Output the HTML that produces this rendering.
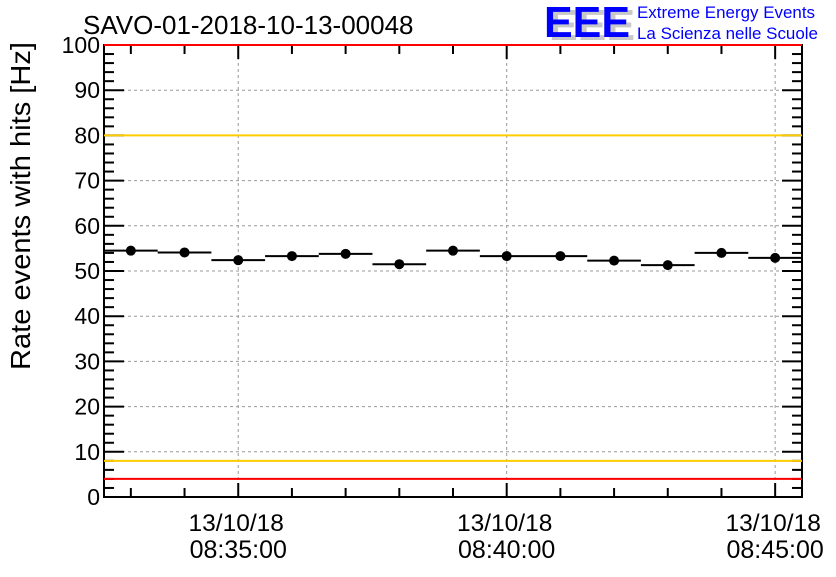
<!DOCTYPE html>
<html><head><meta charset="utf-8"><style>
body{margin:0;background:#fff;}
svg text{font-family:"Liberation Sans",sans-serif;}
</style></head><body>
<svg id="c" width="836" height="572" xmlns="http://www.w3.org/2000/svg">
<text x="83" y="34" font-size="26" fill="#000">SAVO-01-2018-10-13-00048</text>
<g>
<text x="549" y="40" font-size="44" font-weight="bold" fill="#c8c8c8" textLength="86" lengthAdjust="spacingAndGlyphs">EEE</text>
<text x="544" y="37" font-size="44" font-weight="bold" fill="#0000ff" textLength="86" lengthAdjust="spacingAndGlyphs">EEE</text>
<text x="637" y="18" font-size="16.5" fill="#0000ff" textLength="178" lengthAdjust="spacingAndGlyphs">Extreme Energy Events</text>
<text x="637" y="39" font-size="16.5" fill="#0000ff" textLength="181" lengthAdjust="spacingAndGlyphs">La Scienza nelle Scuole</text>
</g>
<g id="grid"></g><g id="axes"></g><g id="lines"></g><g id="marks"></g>
<text transform="translate(30,42) rotate(-90)" text-anchor="end" font-size="28" textLength="328" lengthAdjust="spacingAndGlyphs">Rate events with hits [Hz]</text>
</svg>
<script>
const values=[54.5,54.1,52.4,53.3,53.8,51.5,54.5,53.3,53.3,52.3,51.3,54.0,52.9];
const errors=[1.0,1.0,1.0,1.0,1.0,1.0,1.0,1.0,1.0,1.0,1.0,1.0,1.0];
const yTicks=[0,10,20,30,40,50,60,70,80,90,100];
const xTickMinutes=[35,40,45];
const xTickLabels=["08:35:00","08:40:00","08:45:00"];
const limitsRed=[100,4];
const limitsOrange=[80,8];
const startMin=32.5;
const L=104,R=802,T=45,B=497,ymax=100;
const minW=(R-L)/13;
const X=m=>L+(m-startMin)*minW;
const Y=v=>B-(v/ymax)*(B-T);
const NS="http://www.w3.org/2000/svg";
function mk(p,tag,a){const e=document.createElementNS(NS,tag);for(const k in a)e.setAttribute(k,a[k]);document.getElementById(p).appendChild(e);return e;}
yTicks.forEach(v=>{if(v>0&&v<100){const e=mk('grid','line',{x1:L,x2:R,y1:Y(v),y2:Y(v),stroke:'#999','stroke-dasharray':'3,3'});

}});
xTickMinutes.forEach(m=>{const e=mk('grid','line',{x1:X(m),x2:X(m),y1:T,y2:B,stroke:'#999','stroke-dasharray':'3,3'});

});
const fr=mk('axes','rect',{x:L,y:T,width:R-L,height:B-T,fill:'none',stroke:'#000','stroke-width':2});


for(let v=0;v<=100;v+=2){const major=v%10===0,len=major?20:10;
mk('axes','line',{x1:L,x2:L+len,y1:Y(v),y2:Y(v),stroke:'#000','stroke-width':2});
mk('axes','line',{x1:R,x2:R-len,y1:Y(v),y2:Y(v),stroke:'#000','stroke-width':2});}
yTicks.forEach(v=>{const t=mk('axes','text',{x:L-4,y:Y(v)+8,'text-anchor':'end','font-size':23});t.textContent=v;

});
for(let m=33;m<=45;m++){const major=m%5===0,len=major?14:9;
mk('axes','line',{x1:X(m),x2:X(m),y1:B,y2:B-len,stroke:'#000','stroke-width':2});
mk('axes','line',{x1:X(m),x2:X(m),y1:T,y2:T+len,stroke:'#000','stroke-width':2});}
xTickMinutes.forEach((m,i)=>{const t=mk('axes','text',{x:X(m)-2,y:531,'text-anchor':'middle','font-size':24.5});t.textContent='13/10/18';


const t2=mk('axes','text',{x:X(m),y:558,'text-anchor':'middle','font-size':25});t2.textContent=xTickLabels[i];

});
limitsOrange.forEach(v=>{const e=mk('lines','line',{x1:L,x2:R,y1:Y(v),y2:Y(v),stroke:'#ffcc00','stroke-width':2});

});
limitsRed.forEach(v=>{const e=mk('lines','line',{x1:L,x2:R,y1:Y(v),y2:Y(v),stroke:'#ff0000','stroke-width':2});

});
values.forEach((v,i)=>{const x0=X(startMin+i),x1=X(startMin+i+1),cx=(x0+x1)/2;
const h=mk('marks','line',{x1:x0,x2:x1,y1:Y(v),y2:Y(v),stroke:'#000','stroke-width':2});


mk('marks','line',{x1:cx,x2:cx,y1:Y(v+errors[i]),y2:Y(v-errors[i]),stroke:'#000','stroke-width':2});
const c=mk('marks','circle',{cx:cx,cy:Y(v),r:5,fill:'#000'});

});
</script>
</body></html>
